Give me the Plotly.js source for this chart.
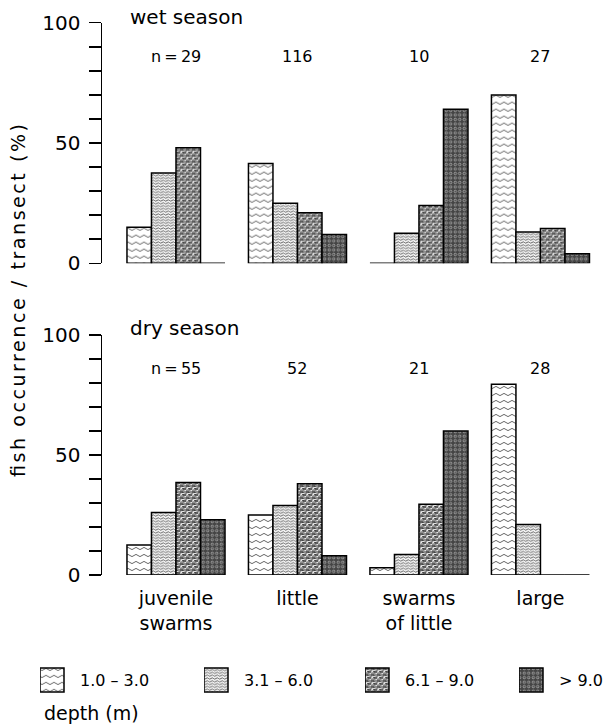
<!DOCTYPE html>
<html>
<head>
<meta charset="utf-8">
<script src="https://cdn.plot.ly/plotly-3.0.1.min.js"></script>
<style>
  body { margin: 0; background: #fff; }
  #chart { width: 608px; height: 724px; }
</style>
</head>
<body>
<svg width="0" height="0" style="position:absolute">
  <defs>
    <pattern id="pw1" patternUnits="userSpaceOnUse" width="8" height="7">
      <rect width="8" height="7" fill="#fff"/>
      <path d="M0,3.5 q2,-2.2 4,0 t4,0" fill="none" stroke="#333" stroke-width="0.75"/>
    </pattern>
    <pattern id="pw2" patternUnits="userSpaceOnUse" width="5" height="2.8">
      <rect width="5" height="2.8" fill="#f4f4f4"/>
      <path d="M0,1.4 q1.25,-1.3 2.5,0 t2.5,0" fill="none" stroke="#333" stroke-width="0.75"/>
    </pattern>
    <pattern id="pw3" patternUnits="userSpaceOnUse" width="6" height="6">
      <rect width="6" height="6" fill="#8e8e8e"/>
      <path d="M0,1 h3 v3 h3" fill="none" stroke="#222" stroke-width="0.9"/>
      <path d="M0,4 h1.5 v-1.5 h3 M4.5,5.5 h1.5" fill="none" stroke="#f2f2f2" stroke-width="0.9"/>
    </pattern>
    <pattern id="pw4" patternUnits="userSpaceOnUse" width="4.5" height="4.5">
      <rect width="4.5" height="4.5" fill="#454545"/>
      <circle cx="2.25" cy="2.25" r="1.2" fill="none" stroke="#d0d0d0" stroke-width="0.6"/>
    </pattern>
  </defs>
</svg>
<div id="chart"></div>
<script>
// ---- data ----
const categories = ['juvenile<br>swarms', 'little', 'swarms<br>of little', 'large'];
const depthClasses = ['1.0 – 3.0', '3.1 – 6.0', '6.1 – 9.0', '> 9.0'];

// wet season, fish occurrence / transect (%)
const wet_1to3 = [15, 41.5, 0, 70];
const wet_3to6 = [37.5, 25, 12.5, 13];
const wet_6to9 = [48, 21, 24, 14.5];
const wet_over9 = [0, 12, 64, 4];
const wetN = [29, 116, 10, 27];

// dry season
const dry_1to3 = [12.5, 25, 3, 79.5];
const dry_3to6 = [26, 29, 8.5, 21];
const dry_6to9 = [38.5, 38, 29.5, 0];
const dry_over9 = [23, 8, 60, 0];
const dryN = [55, 52, 21, 28];

const yTickVals = [0, 10, 20, 30, 40, 50, 60, 70, 80, 90, 100];
const yTickText = ['0', '', '', '', '', '50', '', '', '', '', '100'];

// ---- build traces ----
const wetSeries = [wet_1to3, wet_3to6, wet_6to9, wet_over9];
const drySeries = [dry_1to3, dry_3to6, dry_6to9, dry_over9];
const patternIds = ['pw1', 'pw2', 'pw3', 'pw4'];
const legendIds = ['legend', 'legend2', 'legend3', 'legend4'];

const traces = [];
wetSeries.forEach((vals, k) => {
  traces.push({
    type: 'bar', x: categories, y: vals, name: depthClasses[k],
    xaxis: 'x', yaxis: 'y', meta: k, showlegend: true, legend: legendIds[k],
    marker: { color: '#ffffff', line: { color: '#000', width: 1.5 } },
    hoverinfo: 'skip'
  });
});
drySeries.forEach((vals, k) => {
  traces.push({
    type: 'bar', x: categories, y: vals, name: depthClasses[k],
    xaxis: 'x2', yaxis: 'y2', meta: k, showlegend: false,
    marker: { color: '#ffffff', line: { color: '#000', width: 1.5 } },
    hoverinfo: 'skip'
  });
});

const FONT = 'DejaVu Sans, Arial, sans-serif';
const W = 608, H = 724;
const py = p => 1 - p / H;   // pixel row -> paper y
const px = p => p / W;       // pixel col -> paper x

const xBase = {
  domain: [px(102), 1], range: [-0.609, 3.556], type: 'category',
  showgrid: false, zeroline: false, showline: false, ticks: '', fixedrange: true
};
const yBase = {
  range: [0, 100], tickvals: yTickVals, ticktext: yTickText,
  ticks: 'outside', ticklen: 12, tickwidth: 1.5, tickcolor: '#000',
  showline: true, linewidth: 1.5, linecolor: '#000',
  showgrid: false, zeroline: false, tickfont: { size: 20, family: FONT, color: '#000' },
  ticklabelstandoff: 4, fixedrange: true
};

const annotations = [];
const nLabel = (v, i) => (i === 0 ? 'n\u2009=\u2009' : '') + v;
categories.forEach((c, i) => {
  annotations.push({ x: c, y: 86, xref: 'x', yref: 'y', text: nLabel(wetN[i], i),
    showarrow: false, font: { size: 16, family: FONT } });
  annotations.push({ x: c, y: 86, xref: 'x2', yref: 'y2', text: nLabel(dryN[i], i),
    showarrow: false, font: { size: 16, family: FONT } });
});
annotations.push({ x: px(128), y: py(17), xref: 'paper', yref: 'paper', xanchor: 'left', yanchor: 'middle',
  text: 'wet season', showarrow: false, font: { size: 20, family: FONT } });
annotations.push({ x: px(128), y: py(328), xref: 'paper', yref: 'paper', xanchor: 'left', yanchor: 'middle',
  text: 'dry season', showarrow: false, font: { size: 20, family: FONT } });
annotations.push({ x: px(42), y: py(713), xref: 'paper', yref: 'paper', xanchor: 'left', yanchor: 'middle',
  text: 'depth (m)', showarrow: false, font: { size: 19, family: FONT } });
annotations.push({ x: px(18), y: py(301), xref: 'paper', yref: 'paper', xanchor: 'center', yanchor: 'middle',
  text: 'fish occurrence / transect (%)', textangle: -90, showarrow: false,
  font: { size: 19, family: FONT } });

const legendBase = {
  orientation: 'h', yanchor: 'middle', y: py(680),
  font: { size: 16, family: FONT, color: '#000' },
  itemwidth: 30, bgcolor: 'rgba(0,0,0,0)', borderwidth: 0
};
// text starts of the four key entries in the reference: 80, 245, 406, 559
const legendLeft = [40, 204, 365];

const layout = {
  width: W, height: H,
  margin: { l: 0, r: 0, t: 0, b: 0 },
  paper_bgcolor: '#fff', plot_bgcolor: 'rgba(0,0,0,0)',
  font: { family: FONT, color: '#000' },
  barmode: 'group', bargap: 0.193, bargroupgap: 0,
  xaxis: Object.assign({}, xBase, { anchor: 'y', showticklabels: false }),
  xaxis2: Object.assign({}, xBase, { anchor: 'y2', showticklabels: true,
    tickfont: { size: 19, family: FONT, color: '#000' }, ticklabelstandoff: 10 }),
  yaxis: Object.assign({}, yBase, { domain: [py(263.3), py(22.7)], anchor: 'x' }),
  yaxis2: Object.assign({}, yBase, { domain: [py(575), py(335)], anchor: 'x2' }),
  legend: Object.assign({}, legendBase, { x: px(legendLeft[0]), xanchor: 'left' }),
  legend2: Object.assign({}, legendBase, { x: px(legendLeft[1]), xanchor: 'left' }),
  legend3: Object.assign({}, legendBase, { x: px(legendLeft[2]), xanchor: 'left' }),
  legend4: Object.assign({}, legendBase, { x: 1, xanchor: 'right' }),
  annotations: annotations,
  showlegend: true
};

function traceOf(el) {
  let d = el.__data__;
  while (Array.isArray(d)) {
    if (d[0] && d[0].trace) return d[0].trace;
    d = d[0];
  }
  return d && d.trace ? d.trace : null;
}

Plotly.newPlot('chart', traces, layout, { staticPlot: true, displayModeBar: false }).then(gd => {
  gd.querySelectorAll('.barlayer .trace').forEach(tr => {
    const t = traceOf(tr);
    if (!t) return;
    const pid = patternIds[t.meta];
    tr.querySelectorAll('.point path').forEach(p => { p.style.fill = 'url(#' + pid + ')'; });
  });
  gd.querySelectorAll('.infolayer g.traces').forEach(tr => {
    const t = traceOf(tr);
    if (!t) return;
    const pid = patternIds[t.meta];
    const txt = tr.querySelector('text.legendtext');
    const tx = txt ? parseFloat(txt.getAttribute('x')) || 40 : 40;
    tr.querySelectorAll('.legendpoints path').forEach(p => {
      p.setAttribute('d', 'M12,12H-12V-12H12Z');
      p.setAttribute('transform', 'translate(' + (tx - 28) + ',0)');
      p.style.fill = 'url(#' + pid + ')';
      p.style.strokeWidth = '1.5px';
      p.style.stroke = '#000';
    });
  });
  gd.querySelectorAll('.annotation-text').forEach(t => {
    if (t.textContent.indexOf('fish') === 0) {
      t.setAttribute('textLength', '353');
      t.setAttribute('lengthAdjust', 'spacing');
    }
  });
});
</script>
</body>
</html>
